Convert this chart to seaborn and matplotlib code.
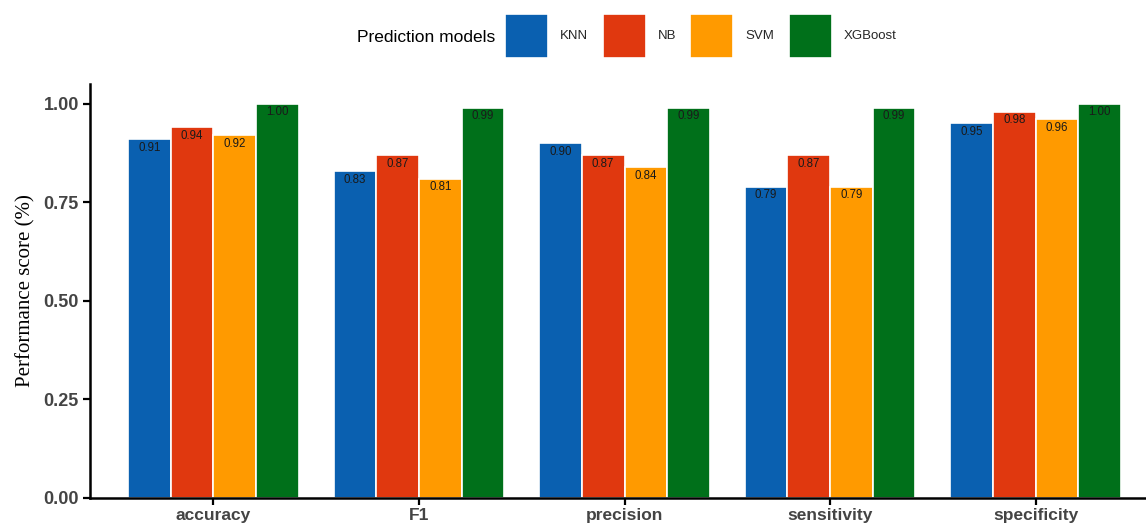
# grouped bar chart: performance score per metric for four prediction models
import matplotlib
matplotlib.use("Agg")
import matplotlib.pyplot as plt
import seaborn as sns
import pandas as pd

metrics = ["accuracy", "F1", "precision", "sensitivity", "specificity"]
models = ["KNN", "NB", "SVM", "XGBoost"]

knn = [0.91, 0.83, 0.90, 0.79, 0.95]
nb = [0.94, 0.87, 0.87, 0.87, 0.98]
svm = [0.92, 0.81, 0.84, 0.79, 0.96]
xgb = [1.00, 0.99, 0.99, 0.99, 1.00]

colors = {"KNN": "#0A60B0", "NB": "#E0380F", "SVM": "#FF9A00", "XGBoost": "#00701A"}

# long format table for seaborn
rows = []
for model, vals in zip(models, [knn, nb, svm, xgb]):
    for m, v in zip(metrics, vals):
        rows.append({"metric": m, "model": model, "value": v})
df = pd.DataFrame(rows)

sns.set_style("white")
plt.rcParams["font.family"] = ["Liberation Sans", "DejaVu Sans"]

W, H = 1146, 528
fig = plt.figure(figsize=(W / 100, H / 100), dpi=100)
# axes run a little past the right edge, like the cropped original
ax = fig.add_axes([90 / W, 30 / H, 1069 / W, 414 / H])

sns.barplot(data=df, x="metric", y="value", hue="model", order=metrics,
            hue_order=models, palette=colors, width=0.83, dodge=True,
            edgecolor="white", linewidth=1.2, saturation=1, ax=ax)

# value labels just under each bar top
for cont in ax.containers:
    for bar in cont:
        h = bar.get_height()
        ax.annotate(f"{h:.2f}", (bar.get_x() + bar.get_width() / 2, h),
                    xytext=(0, -2), textcoords="offset points",
                    ha="center", va="top", fontsize=8.3, color="#1a1a1a")

ax.set_xlim(-0.6, 4.6)
ax.set_ylim(0, 1.05)
ax.set_yticks([0, 0.25, 0.5, 0.75, 1.0])
ax.set_yticklabels(["0.00", "0.25", "0.50", "0.75", "1.00"])
ax.set_xlabel("")
ax.set_ylabel("Performance score (%)", family=["Liberation Serif", "DejaVu Serif"],
              fontsize=15, color="black", labelpad=6)

for s in ["top", "right"]:
    ax.spines[s].set_visible(False)
for s in ["left", "bottom"]:
    ax.spines[s].set_color("black")
    ax.spines[s].set_linewidth(1.8)

ax.tick_params(axis="both", which="major", length=5, width=1.6, color="black",
               labelsize=13, labelcolor="#444444", pad=3, left=True, bottom=True)
ax.tick_params(axis="x", pad=2, labelsize=12.5)
for lab in ax.get_xticklabels() + ax.get_yticklabels():
    lab.set_fontweight("bold")

# legend on top with the title on its left
handles, labels = ax.get_legend_handles_labels()
ax.get_legend().remove()
fig.legend(handles, labels, loc="center left", bbox_to_anchor=(505 / W, 1 - 36 / H),
           ncol=4, frameon=False, fontsize=9.5, borderpad=0, borderaxespad=0,
           handlelength=3.26, handleheight=4.64, handletextpad=0.9,
           columnspacing=1.1)
fig.text(357 / W, 1 - 37 / H, "Prediction models", fontsize=12.5,
         ha="left", va="center", color="black")

fig.savefig("out.png", dpi=100)
